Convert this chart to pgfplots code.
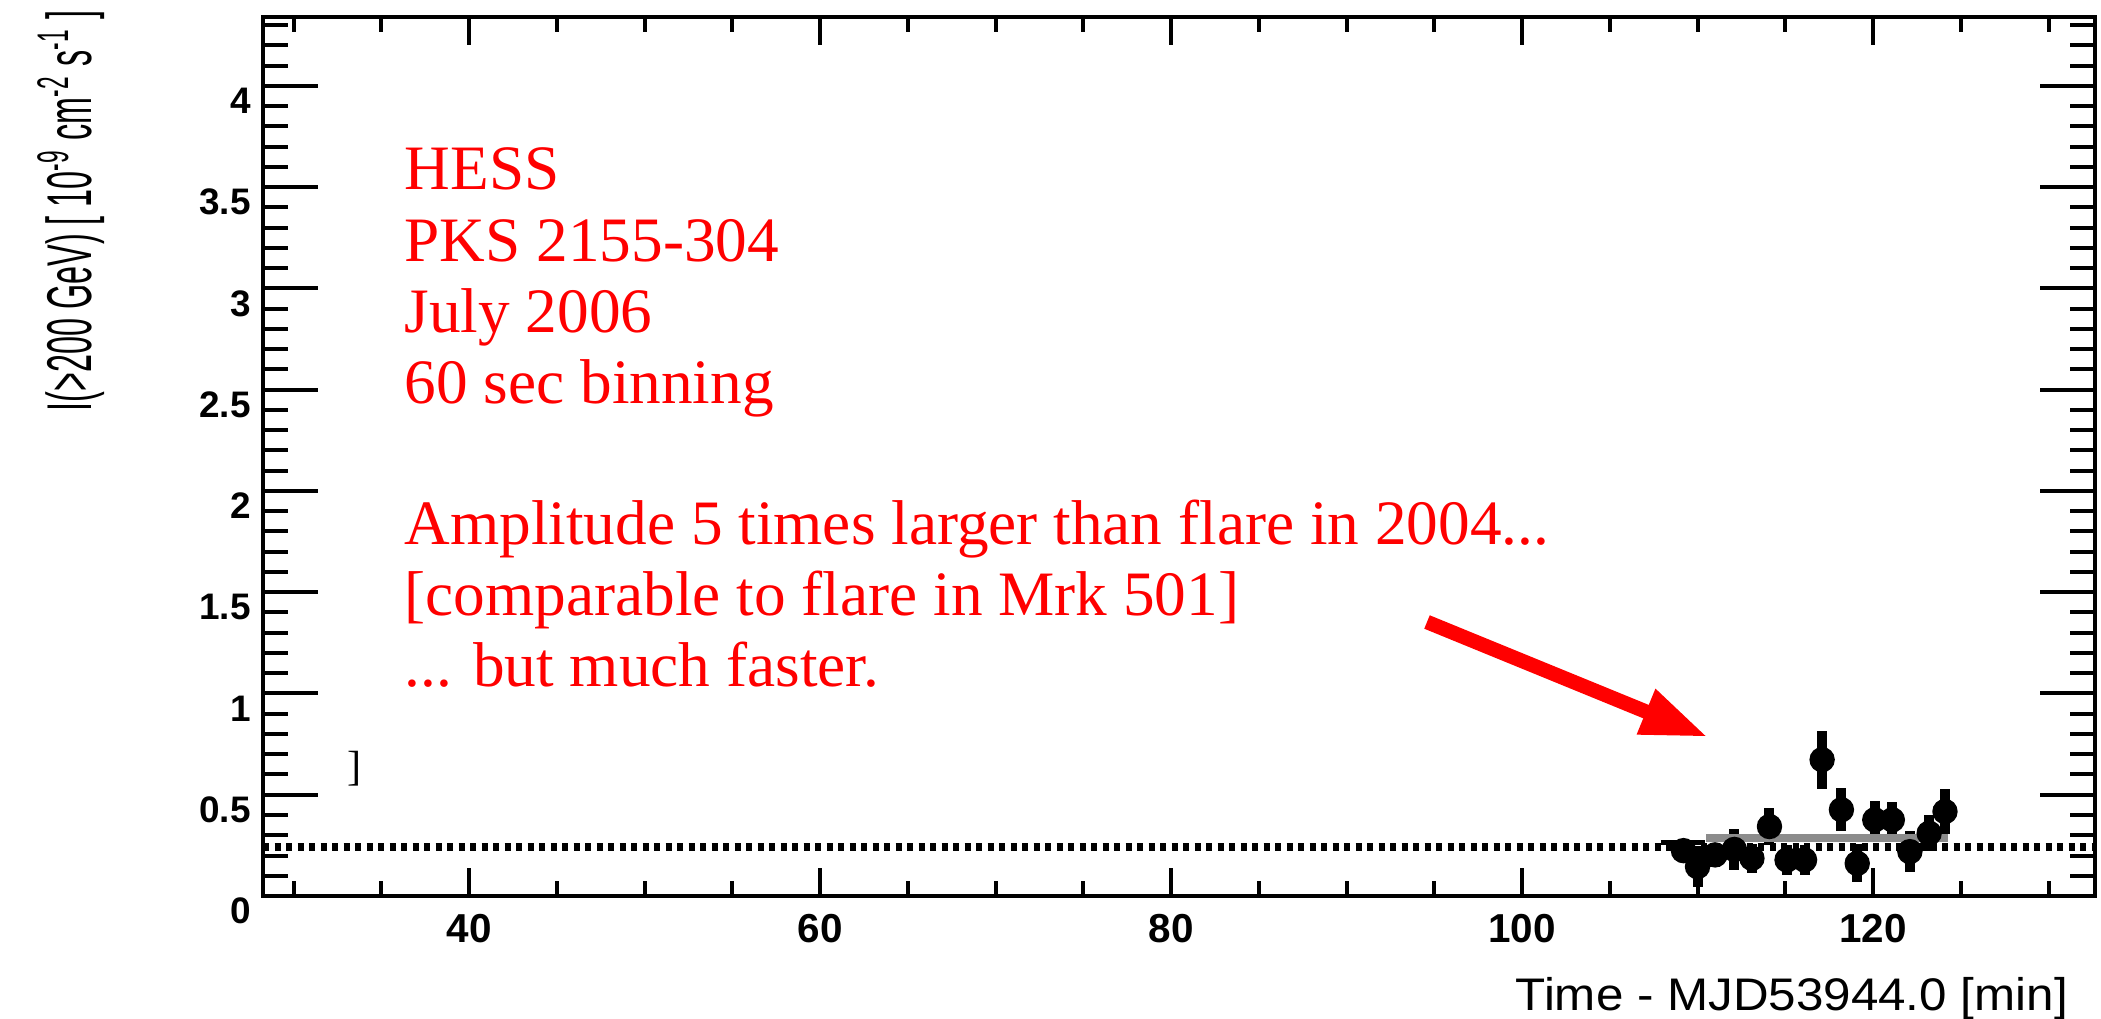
\documentclass[border=0pt]{standalone}
\usepackage{fontspec}
\setmainfont{Liberation Serif}
\newfontfamily\hv{Liberation Sans}
\usepackage{pgfplots}
\usepackage{pgfplotstable}
\pgfplotsset{compat=1.18}
\usetikzlibrary{arrows.meta}

% 60 s binned light curve: time [min], integral flux, 1 sigma error
\pgfplotstableread{
t     flux   err
109.2 0.224 0.050
110.0 0.145 0.100
111.0 0.203 0.060
112.1 0.230 0.100
113.1 0.186 0.070
114.1 0.343 0.090
115.1 0.178 0.075
116.1 0.178 0.075
117.1 0.673 0.144
118.2 0.426 0.107
119.1 0.161 0.094
120.1 0.376 0.091
121.1 0.376 0.090
122.1 0.219 0.100
123.2 0.310 0.090
124.1 0.417 0.110
}\lightcurve

\pgfplotsset{
  rootframe/.style={
    scale only axis, width=183.2mm, height=87.9mm,
    at={(26.3mm,12.2mm)}, anchor=south west,
    xmin=28.26, xmax=132.65, ymin=0, ymax=4.34,
    axis line style={line width=0.45mm},
    tick align=inside,
    tick style={black, line width=0.4mm},
    /pgf/number format/assume math mode=true,
  }
}

\begin{document}
\begin{tikzpicture}
\useasboundingbox (0,0) rectangle (210.1mm,101.8mm);

% frame with the time ticks and the data
\begin{axis}[rootframe,
  xtick={40,60,80,100,120},
  minor xtick={30,35,...,130},
  ytick=\empty,
  major tick length=2.8mm, minor tick length=1.5mm,
  xtick pos=both, xticklabel pos=lower,
  xticklabel style={font=\hv\bfseries\fontsize{11.5}{13}\selectfont, yshift=-0.55mm},
]
\addplot[only marks, mark=*, mark size=1.2mm, black,
  error bars/.cd, y dir=both, y explicit, error mark=none,
  error bar style={line width=1mm, black}]
  table[x=t, y=flux, y error=err] {\lightcurve};
% baseline flux level
\addplot[black, line width=0.8mm, dash pattern=on 0.6mm off 0.55mm]
  coordinates {(28.26,0.24) (132.65,0.24)};
% mean over the flare interval
\addplot[black!45, line width=0.8mm]
  coordinates {(110.5,0.285) (124.3,0.285)};
\addplot[black, line width=0.5mm]
  coordinates {(107.9,0.265) (110.4,0.265)};
\end{axis}

% same frame carrying the flux ticks
\begin{axis}[rootframe,
  xtick=\empty,
  ytick={0,0.5,1,1.5,2,2.5,3,3.5,4},
  minor ytick={0,0.1,...,4.31},
  major tick length=5.5mm, minor tick length=2.5mm,
  ytick pos=both, yticklabel pos=left,
  yticklabel style={font=\hv\bfseries\fontsize{10.5}{12}\selectfont, yshift=-1.5mm},
]
\end{axis}

% axis titles
\node[rotate=90, anchor=base east, inner sep=0, font=\hv\fontsize{10}{12}\selectfont]
  at (9.1mm,100.8mm)
  {\scalebox{0.92}[1.8]{I(>200 GeV) [ 10\textsuperscript{-9} cm\textsuperscript{-2} s\textsuperscript{-1} ]}};
\node[anchor=base west, inner sep=0, font=\hv\fontsize{13}{15}\selectfont]
  at (151.5mm,0.8mm) {\scalebox{1.08}[1]{Time - MJD53944.0 [min]}};

% annotations
\begin{scope}[every node/.style={anchor=base west, inner sep=0, text=red,
    font=\fontsize{18}{20}\selectfont}]
\node at (40.4mm,82.8mm) {HESS};
\node at (40.4mm,75.7mm) {PKS 2155-304};
\node at (40.4mm,68.6mm) {July 2006};
\node at (40.4mm,61.5mm) {60 sec binning};
\node at (40.4mm,47.35mm) {Amplitude 5 times larger than flare in 2004...};
\node at (40.4mm,40.3mm) {[comparable to flare in Mrk 501]};
\node at (40.4mm,33.2mm) {... but much faster.};
\end{scope}
\draw[red, line width=1.45mm, -{Triangle[length=6.7mm, width=4.5mm]}]
  (142.7mm,39.6mm) -- (170.8mm,28.1mm);
\node[inner sep=0, font=\fontsize{12}{14}\selectfont] at (35.5mm,24.95mm) {]};
\end{tikzpicture}
\end{document}
